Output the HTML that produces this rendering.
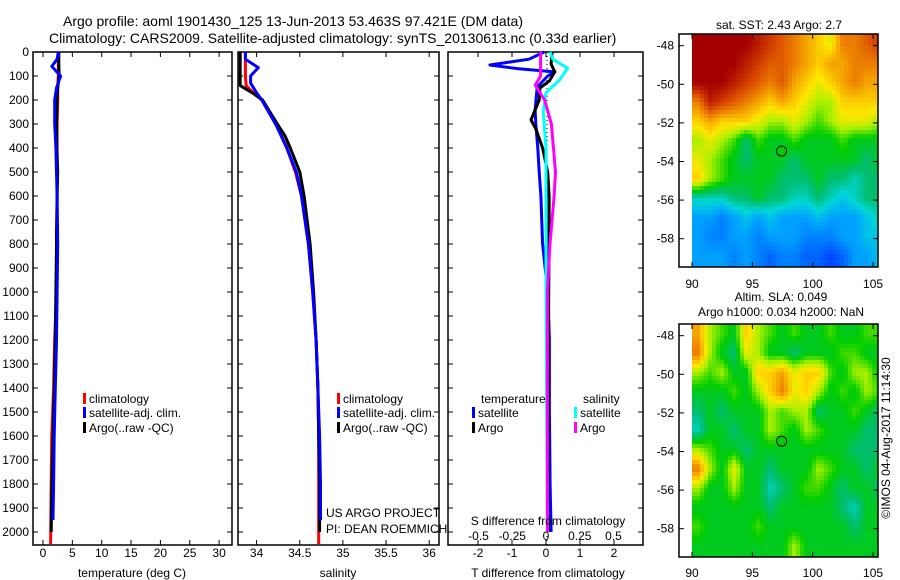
<!DOCTYPE html>
<html><head><meta charset="utf-8"><style>
body{margin:0;background:#fff;}
svg{display:block;font-family:"Liberation Sans",sans-serif;}
text{fill:#000;}
</style></head><body>
<svg id="c" width="900" height="580" viewBox="0 0 900 580">
<text x="63" y="26" font-size="14">Argo profile: aoml 1901430_125 13-Jun-2013 53.463S 97.421E (DM data)</text>
<text x="49" y="43" font-size="14">Climatology: CARS2009. Satellite-adjusted climatology: synTS_20130613.nc (0.33d earlier)</text>
</svg>
<script>
// ---- data ----
const depthTicks=[0,100,200,300,400,500,600,700,800,900,1000,1100,1200,1300,1400,1500,1600,1700,1800,1900,2000];
const tTicks=[0,5,10,15,20,25,30];
const sTicks=[34,34.5,35,35.5,36];
const dTTicks=[-2,-1,0,1,2];
const dSTicks=[-0.5,-0.25,0,0.25,0.5];
const dSTickLabels=["-0.5","-0.25","0","0.25","0.5"];
const tArgoDepth=[0,50,100,150,200,300,400,500,600,800,1000,1200,1400,1600,1800,2000];
const tArgo=[2.7,2.7,2.75,2.5,2.4,2.3,2.35,2.5,2.4,2.3,2.2,2.1,1.9,1.7,1.5,1.4];
const tClimDepth=[0,50,100,150,200,300,400,500,600,800,1000,1200,1400,1600,1800,2050];
const tClim=[2.6,2.6,2.6,2.5,2.5,2.4,2.4,2.4,2.4,2.3,2.3,2.0,1.8,1.5,1.4,1.3];
const tSatDepth=[0,30,60,100,150,200,300,400,500,600,800,1000,1200,1400,1600,1800,1950];
const tSat=[2.6,2.4,1.5,3.0,2.3,2.0,2.0,2.2,2.3,2.4,2.5,2.4,2.3,2.1,1.9,1.8,1.7];
const sArgoDepth=[0,100,140,170,200,300,350,400,500,600,800,1000,1200,1400,1600,1800,2000];
const sArgo=[33.81,33.81,33.81,33.95,34.07,34.24,34.33,34.39,34.5,34.55,34.62,34.66,34.69,34.71,34.72,34.73,34.73];
const sClim=[33.87,33.87,33.88,33.96,34.06,34.22,34.29,34.35,34.45,34.52,34.6,34.65,34.69,34.71,34.72,34.72,34.72];
const sClimDepth=[0,100,140,170,200,300,350,400,500,600,800,1000,1200,1400,1600,1800,2050];
const sSatDepth=[0,30,65,100,130,170,200,300,400,500,600,800,1000,1200,1400,1600,1800,1950];
const sSat=[33.87,33.87,34.02,33.93,33.93,34.0,34.06,34.22,34.35,34.46,34.52,34.6,34.65,34.69,34.71,34.73,34.74,34.74];
const dTSatDepth=[0,30,54,70,83,100,146,242,300,400,500,600,800,1000,1200,1500,1800,2000];
const dTSat=[-0.05,-0.5,-1.65,-0.8,0.26,0.05,-0.26,-0.32,-0.3,-0.24,-0.2,-0.15,-0.1,0.05,0.1,0.1,0.12,0.15];
const dTArgoDepth=[0,50,83,120,150,200,283,320,400,500,600,800,1000,1400,2000];
const dTArgo=[0.18,0.15,0.26,0.1,-0.18,-0.2,-0.44,-0.3,-0.1,0.05,0.09,0.09,0.08,0.07,0.06];
const dSSatDepth=[0,30,67,117,170,250,400,600,1000,2000];
const dSSat=[0.03,0.05,0.16,0.1,0,-0.02,0,0,0,0.01];
const dSArgoDepth=[0,100,138,200,300,500,600,800,1000,2000];
const dSArgo=[-0.04,-0.04,-0.08,-0.01,0.04,0.07,0.06,0.03,0.01,0.01];
const lonTicks=[90,95,100,105];
const latTicks=[-48,-50,-52,-54,-56,-58];
const sstGrid=[
[1,1,1,1,1,.95,.9,.85,.8,.75,.7,.65,.8,.8,.85,.9],
[1,1,1,1,.95,.9,.85,.85,.8,.75,.7,.75,.75,.8,.8,.8],
[1,1,1,.95,.9,.85,.8,.85,.75,.7,.65,.7,.75,.8,.75,.75],
[.8,.95,.9,.85,.8,.75,.7,.75,.7,.65,.6,.6,.7,.7,.7,.7],
[.7,.75,.7,.7,.7,.65,.6,.6,.65,.6,.55,.6,.65,.65,.65,.6],
[.6,.65,.6,.55,.45,.55,.5,.5,.55,.5,.5,.5,.55,.5,.5,.5],
[.65,.6,.55,.5,.45,.5,.5,.5,.45,.5,.5,.5,.5,.5,.45,.5],
[.7,.6,.55,.5,.5,.5,.5,.45,.45,.45,.5,.45,.45,.4,.45,.45],
[.4,.4,.4,.45,.45,.5,.45,.45,.4,.4,.45,.4,.35,.4,.45,.45],
[.3,.3,.25,.3,.35,.3,.35,.3,.3,.3,.35,.3,.3,.3,.35,.4],
[.3,.25,.25,.3,.3,.25,.3,.3,.3,.25,.25,.25,.3,.3,.35,.35],
[.3,.3,.3,.25,.3,.25,.2,.25,.25,.2,.2,.15,.2,.3,.3,.35]];
const slaGrid=[
[.75,.6,.55,.5,.7,.6,.55,.5,.55,.5,.5,.55,.5,.5,.55,.55],
[.8,.6,.5,.45,.65,.6,.5,.5,.45,.5,.5,.5,.55,.55,.5,.5],
[.6,.55,.6,.5,.5,.7,.7,.75,.65,.7,.7,.55,.5,.6,.6,.5],
[.5,.5,.5,.55,.5,.6,.7,.8,.65,.7,.6,.5,.55,.5,.6,.55],
[.45,.5,.45,.5,.5,.5,.6,.55,.6,.6,.45,.5,.5,.55,.5,.45],
[.4,.5,.5,.45,.5,.5,.6,.55,.5,.6,.55,.5,.5,.5,.45,.45],
[.6,.55,.5,.5,.45,.5,.5,.5,.5,.5,.5,.5,.5,.45,.45,.45],
[.8,.6,.5,.65,.5,.5,.45,.5,.5,.5,.6,.55,.5,.5,.45,.5],
[.6,.5,.5,.6,.5,.5,.4,.45,.5,.55,.55,.5,.45,.5,.5,.45],
[.5,.5,.5,.5,.5,.5,.45,.5,.5,.5,.5,.5,.45,.4,.5,.5],
[.55,.5,.5,.5,.5,.55,.5,.5,.5,.5,.5,.5,.5,.45,.5,.5],
[.5,.5,.5,.5,.5,.5,.5,.5,.6,.5,.5,.5,.5,.5,.5,.5]];
const argoLon=97.42, argoLat=-53.46;

// ---- helpers ----
const svg=document.getElementById('c');
const NS='http://www.w3.org/2000/svg';
function mk(tag,attrs,parent){const e=document.createElementNS(NS,tag);for(const k in attrs)e.setAttribute(k,attrs[k]);(parent||svg).appendChild(e);return e;}
function txt(x,y,s,size,anchor){const e=mk('text',{x:x,y:y,'font-size':size||12,'text-anchor':anchor||'start'});e.textContent=s;return e;}
const Y=d=>52+d*0.24;
const PB=545;
function frame(x0,x1,name){const r=mk('rect',{x:x0,y:52,width:x1-x0,height:PB-52,fill:'none',stroke:'#000','stroke-width':1.5});

}
function xticks(fx,ticks,labels,ly){ticks.forEach((v,i)=>{const x=fx(v);mk('line',{x1:x,x2:x,y1:52,y2:57,stroke:'#000'});mk('line',{x1:x,x2:x,y1:PB,y2:PB-5,stroke:'#000'});
if(ly){const t=txt(x,ly,labels?labels[i]:String(v),12,'middle');

}});}
function yticks(x0,x1,labels){depthTicks.forEach(d=>{const y=Y(d);mk('line',{x1:x0,x2:x0+5,y1:y,y2:y,stroke:'#000'});mk('line',{x1:x1,x2:x1-5,y1:y,y2:y,stroke:'#000'});
if(labels){const t=txt(x0-4,y+4,String(d),12,'end');

}});}
function line(fx,vals,depths,color,w,name){const pts=vals.map((v,i)=>fx(v).toFixed(1)+','+Y(depths[i]).toFixed(1)).join(' ');
const p=mk('polyline',{points:pts,fill:'none',stroke:color,'stroke-width':w||3,'stroke-linejoin':'round'});

}
function legend(x,y,color,label,name){mk('rect',{x:x,y:y-10,width:3,height:11,fill:color});const t=txt(x+6,y,label,12);

}

// ---- panel 1 temperature ----
const fT=t=>43+t*5.87;
frame(33,232,'temperature-panel');
yticks(33,232,true);
xticks(fT,tTicks,null,557);
line(fT,tClim,tClimDepth,'#f00',3,'temp-climatology-line');
line(fT,tArgo,tArgoDepth,'#000',3,'temp-argo-line');
line(fT,tSat,tSatDepth,'#00f',3,'temp-satellite-line');
legend(83,403,'#f00','climatology','legend-climatology');
legend(83,417,'#00f','satellite-adj. clim.','legend-satellite');
legend(83,432,'#000','Argo(..raw -QC)','legend-argo');
let t=txt(132,577,'temperature (deg C)',12,'middle');

// ---- panel 2 salinity ----
const fS=s=>256.6+(s-34)*86.3;
frame(238,439,'salinity-panel');
yticks(238,439,false);
xticks(fS,sTicks,["34","34.5","35","35.5","36"],557);
line(fS,sClim,sClimDepth,'#f00',3,'sal-climatology-line');
line(fS,sArgo,sArgoDepth,'#000',3,'sal-argo-line');
line(fS,sSat,sSatDepth,'#00f',3,'sal-satellite-line');
legend(337,403,'#f00','climatology','legend-sal-climatology');
legend(337,417,'#00f','satellite-adj. clim.','legend-sal-satellite');
legend(337,432,'#000','Argo(..raw -QC)','legend-sal-argo');
t=txt(338,577,'salinity',12,'middle');
t=txt(326,517,'US ARGO PROJECT',12);
t=txt(326,533,'PI: DEAN ROEMMICH',12);

// ---- panel 3 differences ----
const fDT=v=>546+v*34;
const fDS=v=>546+v*135;
frame(448,643,'difference-panel');
yticks(448,643,false);
xticks(fDT,dTTicks,null,557);
dSTicks.forEach((v,i)=>{const tl=txt(fDS(v),540,dSTickLabels[i],12,'middle');});
mk('line',{x1:547,x2:547,y1:52,y2:PB,stroke:'#000','stroke-dasharray':'1,3'});
line(fDT,dTSat,dTSatDepth,'#00f',3,'tdiff-satellite-line');
line(fDT,dTArgo,dTArgoDepth,'#000',3,'tdiff-argo-line');
line(fDS,dSSat,dSSatDepth,'#0ff',3,'sdiff-satellite-line');
line(fDS,dSArgo,dSArgoDepth,'#f0f',3,'sdiff-argo-line');
t=txt(481,403,'temperature',12);
t=txt(583,403,'salinity',12);
legend(472,417,'#00f','satellite','legend-t-satellite');
legend(472,432,'#000','Argo','legend-t-argo');
legend(574,417,'#0ff','satellite','legend-s-satellite');
legend(574,432,'#f0f','Argo','legend-s-argo');
t=txt(548,525,'S difference from climatology',12,'middle');
t=txt(548,577,'T difference from climatology',12,'middle');

// ---- maps ----
const palStops=[[0,[0,0,140]],[0.15,[0,70,255]],[0.3,[0,160,255]],[0.38,[0,215,215]],[0.45,[0,190,110]],[0.52,[0,205,0]],[0.6,[170,240,0]],[0.67,[255,230,0]],[0.78,[240,140,0]],[0.88,[215,70,0]],[1,[165,0,0]]];
function pal(v){v=Math.max(0,Math.min(1,v));for(let i=1;i<palStops.length;i++){if(v<=palStops[i][0]){const a=palStops[i-1],b=palStops[i],f=(v-a[0])/(b[0]-a[0]);
return 'rgb('+[0,1,2].map(k=>Math.round(a[1][k]+(b[1][k]-a[1][k])*f)).join(',')+')';}}return 'rgb(165,0,0)';}
function sample(grid,gx,gy){const R=grid.length,C=grid[0].length;gx=Math.max(0,Math.min(C-1,gx));gy=Math.max(0,Math.min(R-1,gy));
const x0=Math.floor(gx),y0=Math.floor(gy),x1=Math.min(C-1,x0+1),y1=Math.min(R-1,y0+1),fx=gx-x0,fy=gy-y0;
return grid[y0][x0]*(1-fx)*(1-fy)+grid[y0][x1]*fx*(1-fy)+grid[y1][x0]*(1-fx)*fy+grid[y1][x1]*fx*fy;}
function map(top,grid,name,labelY){
  const fx=lon=>692+(lon-90)*12.07;
  const fy=lat=>top+11.7+(-48-lat)*19.3;
  const g=mk('g',{'shape-rendering':'crispEdges'});
  const step=4;
  for(let py=top;py<top+233;py+=step){for(let px=692;px<878;px+=step){
    const lon=90+(px+step/2-692)/12.07, lat=-48-(py+step/2-top-11.7)/19.3;
    const gx=lon-90.5, gy=(-47.9-lat);
    mk('rect',{x:px,y:py,width:Math.min(step,878-px),height:Math.min(step,top+233-py),fill:pal(sample(grid,gx,gy))},g);
  }}
  mk('rect',{x:679,y:top,width:199,height:233,fill:'none',stroke:'#000','stroke-width':1.5});
  lonTicks.forEach(l=>{const x=fx(l);mk('line',{x1:x,x2:x,y1:top+233,y2:top+228,stroke:'#000'});mk('line',{x1:x,x2:x,y1:top,y2:top+5,stroke:'#000'});
    const tl=txt(x,labelY,String(l),12,'middle');});
  latTicks.forEach(l=>{const y=fy(l);mk('line',{x1:679,x2:684,y1:y,y2:y,stroke:'#000'});mk('line',{x1:878,x2:873,y1:y,y2:y,stroke:'#000'});
    const tl=txt(674,y+4,String(l),12,'end');});
  const m=mk('circle',{cx:fx(argoLon),cy:fy(argoLat),r:5,fill:'#0c0',stroke:'#000','stroke-width':1});
  
}
map(34,sstGrid,'sst-map',288);
map(324,slaGrid,'sla-map',577);
t=txt(779,29,'sat. SST: 2.43 Argo: 2.7',12,'middle');
t=txt(781,301,'Altim. SLA: 0.049',12,'middle');
t=txt(781,316,'Argo h1000: 0.034 h2000: NaN',12,'middle');
t=txt(0,0,'©IMOS 04-Aug-2017 11:14:30',12,'middle');t.setAttribute('transform','translate(890,438) rotate(-90)');

</script>
</body></html>
